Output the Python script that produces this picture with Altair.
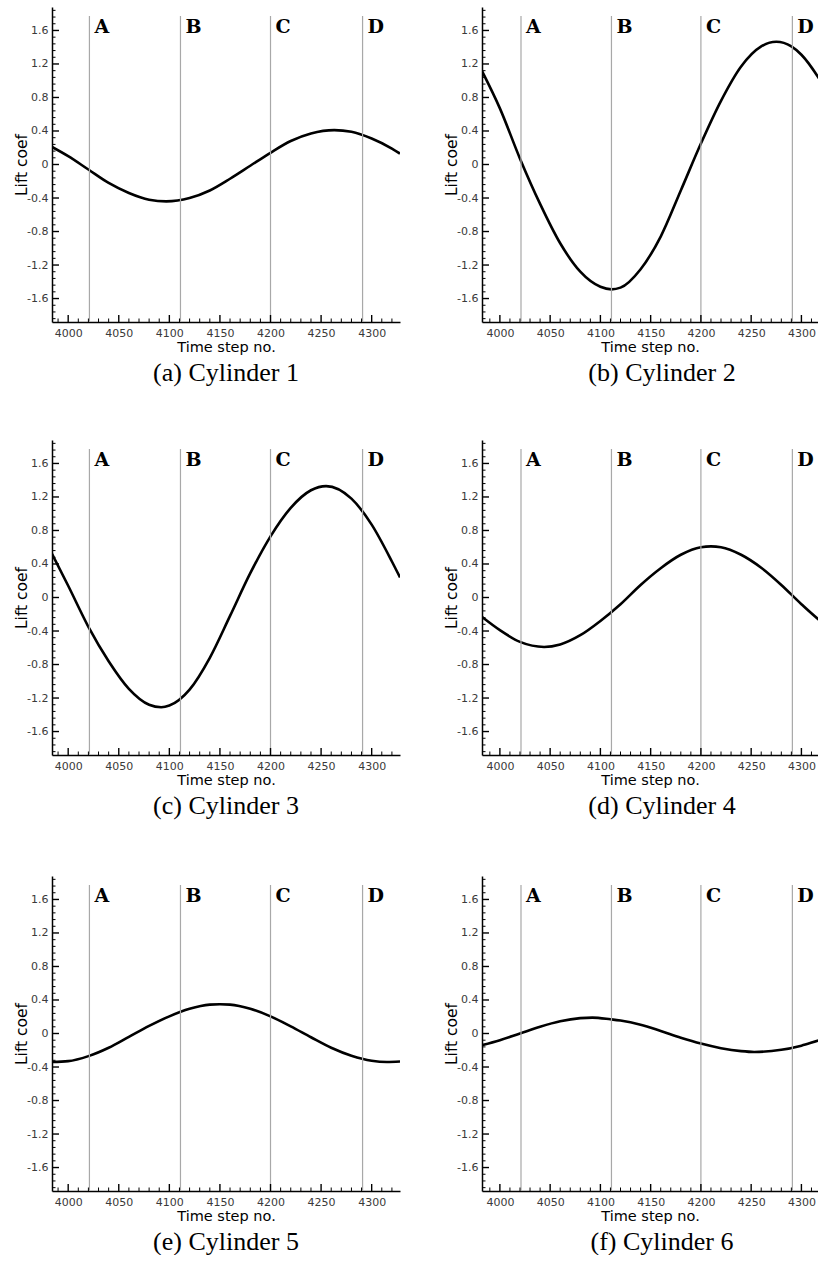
import altair as alt
import pandas as pd

# ---------------- data ----------------
captions = ["(a) Cylinder 1", "(b) Cylinder 2", "(c) Cylinder 3",
            "(d) Cylinder 4", "(e) Cylinder 5", "(f) Cylinder 6"]

letters = ["A", "B", "C", "D"]
letter_steps = [4021, 4111, 4200, 4291]

x_major = [4000, 4050, 4100, 4150, 4200, 4250, 4300]
x_minor = [t for t in range(3990, 4330, 10) if t % 50 != 0]
y_major = [-1.6, -1.2, -0.8, -0.4, 0, 0.4, 0.8, 1.2, 1.6]
y_minor = [round(k * 0.08, 2) for k in range(-23, 24) if k % 5 != 0]

cyl1_t = [3984, 4000, 4020, 4040, 4060, 4080, 4097, 4120, 4140, 4160, 4180,
          4200, 4220, 4240, 4263, 4280, 4300, 4320, 4328]
cyl1_v = [0.21, 0.10, -0.06, -0.22, -0.34, -0.42, -0.44, -0.40, -0.31, -0.17,
          -0.015, 0.14, 0.28, 0.37, 0.41, 0.39, 0.31, 0.19, 0.13]

cyl2_t = [3982, 4000, 4020, 4040, 4060, 4080, 4100, 4111, 4120, 4140, 4160,
          4180, 4200, 4220, 4240, 4260, 4275, 4290, 4300, 4320, 4328]
cyl2_v = [1.12, 0.67, 0.07, -0.47, -0.94, -1.28, -1.46, -1.49, -1.47, -1.25,
          -0.86, -0.31, 0.25, 0.76, 1.17, 1.41, 1.465, 1.41, 1.31, 0.98, 0.82]

cyl3_t = [3984, 4000, 4020, 4040, 4060, 4080, 4092, 4100, 4120, 4140, 4160,
          4180, 4200, 4220, 4240, 4255, 4280, 4300, 4320, 4328]
cyl3_v = [0.52, 0.14, -0.35, -0.76, -1.09, -1.28, -1.31, -1.29, -1.10, -0.72,
          -0.22, 0.29, 0.73, 1.07, 1.28, 1.33, 1.18, 0.87, 0.43, 0.24]

cyl4_t = [3982, 4000, 4020, 4044, 4060, 4080, 4100, 4120, 4140, 4160, 4180,
          4200, 4210, 4220, 4240, 4260, 4280, 4300, 4320, 4328]
cyl4_v = [-0.23, -0.39, -0.53, -0.59, -0.56, -0.45, -0.28, -0.08, 0.15, 0.35,
          0.51, 0.60, 0.61, 0.60, 0.51, 0.355, 0.15, -0.08, -0.29, -0.36]

cyl5_t = [3984, 4000, 4020, 4040, 4060, 4080, 4100, 4120, 4140, 4150, 4160,
          4180, 4200, 4220, 4240, 4260, 4280, 4300, 4315, 4328]
cyl5_v = [-0.34, -0.33, -0.27, -0.17, -0.04, 0.09, 0.205, 0.295, 0.345, 0.35,
          0.345, 0.295, 0.205, 0.085, -0.045, -0.17, -0.265, -0.325, -0.34, -0.335]

cyl6_t = [3982, 4000, 4020, 4040, 4060, 4080, 4092, 4110, 4120, 4140, 4160,
          4180, 4200, 4220, 4240, 4253, 4280, 4300, 4320, 4328]
cyl6_v = [-0.14, -0.08, 0.00, 0.08, 0.145, 0.183, 0.19, 0.17, 0.155, 0.105,
          0.03, -0.05, -0.12, -0.175, -0.21, -0.22, -0.195, -0.145, -0.075, -0.055]

series = [(cyl1_t, cyl1_v), (cyl2_t, cyl2_v), (cyl3_t, cyl3_v),
          (cyl4_t, cyl4_v), (cyl5_t, cyl5_v), (cyl6_t, cyl6_v)]

# ---------------- layout ----------------
Y_DOMAIN = [-1.88, 1.88]
H = 315
LEFT_DOM, LEFT_W = [3984, 4328], 348
RIGHT_DOM, RIGHT_W = [3982.2, 4316.5], 336

label_expr = ("datum.value == 0 ? '0' : (datum.value < 0 ? '-' + format(-datum.value, '.1f')"
              " : format(datum.value, '.1f'))")

X_AXIS = alt.Axis(values=x_major, title="Time step no.", format="d",
                  labelPadding=5, titlePadding=2, titleFontSize=14.5)
Y_AXIS = alt.Axis(values=y_major, title="Lift coef", labelExpr=label_expr,
                  labelPadding=4, minExtent=22, maxExtent=22, titlePadding=1,
                  titleFontSize=15.5)


def panel(caption, ts, vs, xdom, width, cap_dx):
    xs = alt.Scale(domain=xdom, nice=False, zero=False)
    ys = alt.Scale(domain=Y_DOMAIN, nice=False, zero=False)

    curve = alt.Chart(pd.DataFrame({"t": ts, "v": vs})).mark_line(
        color="black", strokeWidth=2.6, interpolate="monotone", clip=True
    ).encode(
        x=alt.X("t:Q", scale=xs, axis=X_AXIS),
        y=alt.Y("v:Q", scale=ys, axis=Y_AXIS),
    )

    markers = alt.Chart(pd.DataFrame({"t": letter_steps, "lab": letters}))
    vlines = markers.mark_rule(color="#a8a8a8", strokeWidth=1.2).encode(
        x=alt.X("t:Q", scale=xs, axis=X_AXIS),
        y=alt.value(9),
        y2=alt.value(H),
    )
    vtext = markers.mark_text(
        font="DejaVu Serif", fontWeight="bold", fontSize=19, align="left",
        baseline="alphabetic", dx=5, color="black"
    ).encode(
        x=alt.X("t:Q", scale=xs, axis=X_AXIS),
        y=alt.value(26),
        text="lab:N",
    )

    xmaj = [t for t in x_major if xdom[0] <= t <= xdom[1]]
    xmin = [t for t in x_minor if xdom[0] <= t <= xdom[1]]
    xt_major = alt.Chart(pd.DataFrame({"t": xmaj})).mark_rule(
        color="black", strokeWidth=1.4).encode(
        x=alt.X("t:Q", scale=xs, axis=X_AXIS), y=alt.value(H), y2=alt.value(H - 7))
    xt_minor = alt.Chart(pd.DataFrame({"t": xmin})).mark_rule(
        color="black", strokeWidth=1.0).encode(
        x=alt.X("t:Q", scale=xs, axis=X_AXIS), y=alt.value(H), y2=alt.value(H - 3.5))
    yt_major = alt.Chart(pd.DataFrame({"v": y_major})).mark_rule(
        color="black", strokeWidth=1.4).encode(
        y=alt.Y("v:Q", scale=ys, axis=Y_AXIS), x=alt.value(0), x2=alt.value(7))
    yt_minor = alt.Chart(pd.DataFrame({"v": y_minor})).mark_rule(
        color="black", strokeWidth=1.0).encode(
        y=alt.Y("v:Q", scale=ys, axis=Y_AXIS), x=alt.value(0), x2=alt.value(3.5))

    return alt.layer(curve, vlines, xt_minor, xt_major, yt_minor, yt_major, vtext).properties(
        width=width, height=H,
        title=alt.TitleParams(caption, orient="bottom", font="Liberation Serif",
                              fontSize=26, fontWeight="normal", color="black",
                              offset=6, anchor="middle", dx=cap_dx),
    )


panels = []
for i, (cap, (ts, vs)) in enumerate(zip(captions, series)):
    if i % 2 == 0:
        panels.append(panel(cap, ts, vs, LEFT_DOM, LEFT_W, 0))
    else:
        panels.append(panel(cap, ts, vs, RIGHT_DOM, RIGHT_W, 12))

rows = [alt.hconcat(panels[i], panels[i + 1], spacing=44) for i in (0, 2, 4)]

top_two = alt.vconcat(rows[0], rows[1], spacing=54)
chart = alt.vconcat(top_two, rows[2], spacing=57).properties(
    padding={"left": 14, "top": 7, "right": 0, "bottom": 0},
    background="white",
).configure_view(stroke=None).configure_axis(
    grid=False, ticks=False,
    domainColor="black", domainWidth=1.5,
    labelFont="DejaVu Sans", labelFontSize=11, labelColor="#3a3a3a",
    titleFont="DejaVu Sans", titleFontWeight="normal",
    titleColor="black",
)

chart.save("out.html", embed_options={"renderer": "svg", "actions": False})
